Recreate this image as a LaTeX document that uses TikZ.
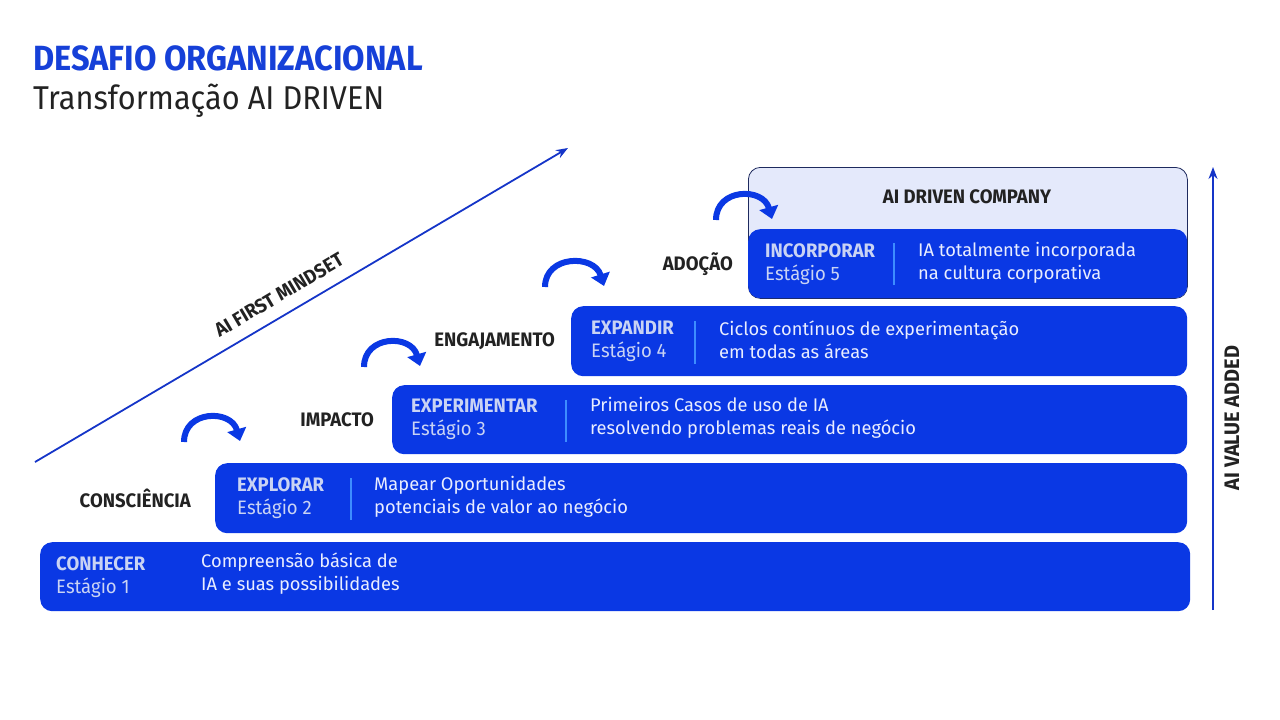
\documentclass[tikz,border=0pt]{standalone}
\usepackage{fontspec}
\setmainfont{Fira Sans}
\newfontfamily\titlefont[FakeStretch=0.93]{Fira Sans}
\newfontfamily\condfont[FakeStretch=0.95]{Fira Sans}
\usepackage{xcolor}
\usepackage{tikz}
\usetikzlibrary{arrows.meta, positioning}

\definecolor{stageblue}{HTML}{0A38E4}
\definecolor{titleblue}{HTML}{1640D8}
\definecolor{namegray}{HTML}{C9D3F4}
\definecolor{textwhite}{HTML}{E9EDFF}
\definecolor{lineblue}{HTML}{3D8DFF}
\definecolor{darktext}{HTML}{222222}
\definecolor{axisblue}{HTML}{1535C8}
\definecolor{topfill}{HTML}{E4E9FB}
\definecolor{topborder}{HTML}{1E2A5E}

\begin{document}
\begin{tikzpicture}[x=1pt, y=-1pt,
  stagebox/.style={fill=stageblue, rounded corners=12pt, inner sep=0, anchor=north west, minimum height=69pt},
  stagename/.style={inner sep=0, anchor=west, align=left, text=namegray, font=\condfont\fontsize{19.5}{23}\selectfont},
  stagetext/.style={inner sep=0, anchor=west, align=left, text=textwhite, font=\fontsize{18.3}{23}\selectfont},
  divider/.style={draw=lineblue, line width=1.5pt},
  steplabel/.style={inner sep=0, text=darktext, font=\condfont\bfseries\fontsize{19.5}{22}\selectfont},
  cyclearrow/.style={draw=stageblue, line width=6pt, -{Triangle[width=19pt,length=12pt]}},
  axisline/.style={draw=axisblue, line width=1.8pt, -{Stealth[length=12pt,width=9pt]}}]
\useasboundingbox (0,0) rectangle (1280,720);

% Title
\node[inner sep=0, anchor=base west, text=titleblue, font=\titlefont\bfseries\fontsize{35}{40}\selectfont] (title) at (33,70) {DESAFIO ORGANIZACIONAL};
\node[inner sep=0, anchor=base west, text=darktext, font=\titlefont\fontsize{33}{40}\selectfont] (subtitle) at (33,109) {Transformação AI DRIVEN};

% Top level
\node[stagebox, fill=topfill, draw=topborder, line width=0.8pt, minimum width=439pt, minimum height=131pt] (top) at (748,167) {};
\node[steplabel, text=darktext] (company) at (967,197) {AI DRIVEN COMPANY};

% Stage boxes
\node[stagebox, minimum width=1150pt] (s1) at (40,542) {};
\node[stagebox, minimum width=972pt, minimum height=70pt] (s2) at (215,463) {};
\node[stagebox, minimum width=795pt] (s3) at (392,385) {};
\node[stagebox, minimum width=616pt, minimum height=70pt] (s4) at (571,306) {};
\node[stagebox, minimum width=439pt] (s5) at (748,229) {};

% Stage 1
\node[stagename, right=16pt of s1.west] (n1) {\textbf{CONHECER}\\Estágio 1};
\node[stagetext] (t1) at (201,574) {Compreensão básica de\\IA e suas possibilidades};

% Stage 2
\node[stagename, right=22pt of s2.west] (n2) {\textbf{EXPLORAR}\\Estágio 2};
\draw[divider] (351,478) -- (351,520);
\node[stagetext] (t2) at (374,497) {Mapear Oportunidades\\potenciais de valor ao negócio};

% Stage 3
\node[stagename, right=19pt of s3.west] (n3) {\textbf{EXPERIMENTAR}\\Estágio 3};
\draw[divider] (566,400) -- (566,442);
\node[stagetext] (t3) at (590,418) {Primeiros Casos de uso de IA\\resolvendo problemas reais de negócio};

% Stage 4
\node[stagename, right=20pt of s4.west] (n4) {\textbf{EXPANDIR}\\Estágio 4};
\draw[divider] (695,321) -- (695,364);
\node[stagetext] (t4) at (719,340) {Ciclos contínuos de experimentação\\em todas as áreas};

% Stage 5
\node[stagename, right=17pt of s5.west] (n5) {\textbf{INCORPORAR}\\Estágio 5};
\draw[divider] (894,243) -- (894,285);
\node[stagetext] (t5) at (918,263) {IA totalmente incorporada\\na cultura corporativa};

% Step labels
\node[steplabel, left=24pt of s2.west] (l2) {CONSCIÊNCIA};
\node[steplabel, left=18pt of s3.west] (l3) {IMPACTO};
\node[steplabel, left=16pt of s4.west] (l4) {ENGAJAMENTO};
\node[steplabel, left=15pt of s5.west] (l5) {ADOÇÃO};

% Step arrows
\draw[cyclearrow] (184,442) .. controls (184,410) and (231,409) .. (240,441);
\draw[cyclearrow] (364,367) .. controls (364,335) and (411,334) .. (420,366);
\draw[cyclearrow] (545,287) .. controls (545,255) and (594,254) .. (604,286);
\draw[cyclearrow] (716,220) .. controls (716,188) and (763,187) .. (772,219);

% Mindset axis
\coordinate (mindStart) at (35,462);
\coordinate (mindEnd) at (568,148);
\draw[axisline] (mindStart) -- (mindEnd);
\node[steplabel, rotate=30.5] (mind) at (279,295) {AI FIRST MINDSET};

% Value axis
\coordinate (valueStart) at (1213,610);
\coordinate (valueEnd) at (1213,167);
\draw[axisline] (valueStart) -- (valueEnd);
\node[steplabel, rotate=90, font=\condfont\bfseries\fontsize{21}{24}\selectfont] (value) at (1232,418) {AI VALUE ADDED};
\end{tikzpicture}
\end{document}
